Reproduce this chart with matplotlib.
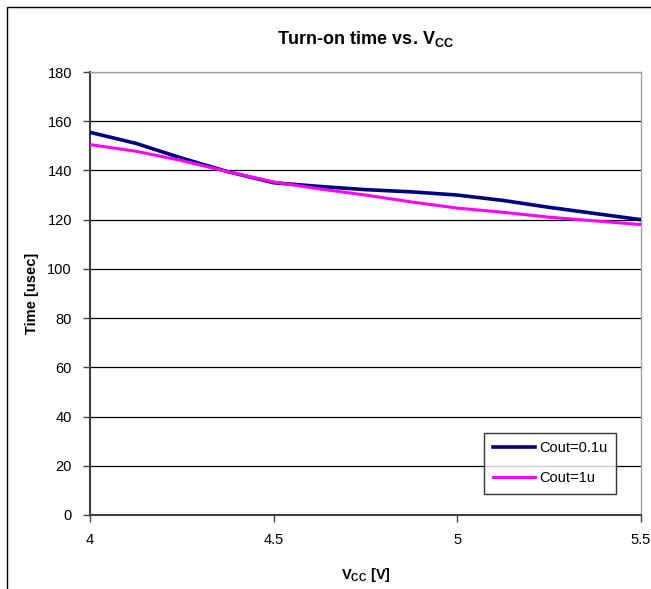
import matplotlib
matplotlib.use('Agg')
from matplotlib import pyplot as plt
from matplotlib.patches import Rectangle

plt.rcParams['font.family'] = ['Liberation Sans', 'DejaVu Sans']
plt.rcParams['mathtext.fontset'] = 'custom'
plt.rcParams['mathtext.rm'] = 'Liberation Sans'
plt.rcParams['mathtext.bf'] = 'Liberation Sans:bold'

# Vcc values (V) and turn-on times (usec)
vcc = [4.0, 4.125, 4.25, 4.375, 4.5, 4.625, 4.75, 4.875, 5.0, 5.125, 5.25, 5.375, 5.5]
t_cout_01u = [155.5, 151, 145, 139.5, 135, 133.5, 132.2, 131.3, 130, 127.8, 125, 122.5, 120]
t_cout_1u = [150.5, 147.8, 144, 139.5, 135.3, 132.5, 130, 127.2, 124.7, 123, 121, 119.5, 118]

labels = ['Cout=0.1u', 'Cout=1u']
colors = ['#000080', '#FF00FF']

y_ticks = list(range(0, 181, 20))
x_ticks = [4, 4.5, 5, 5.5]


def generate_plot():
    fig = plt.figure(figsize=(6.51, 5.89), dpi=100)
    ax = fig.add_axes([90 / 651, 1 - 515 / 589, 551 / 651, 443 / 589])

    # chart area border (cropped at right / bottom like the original)
    fig.patches.append(Rectangle((7 / 651, -0.1), 1.2, 1.1 - 7 / 589,
                                 transform=fig.transFigure, fill=False,
                                 edgecolor='black', lw=1.0))

    ax.plot(vcc, t_cout_01u, color=colors[0], lw=2.6, label=labels[0], zorder=3)
    ax.plot(vcc, t_cout_1u, color=colors[1], lw=2.2, label=labels[1], zorder=3)

    ax.set_xlim(4, 5.5)
    ax.set_ylim(0, 180)
    ax.set_xticks(x_ticks)
    ax.set_xticklabels(['4', '4.5', '5', '5.5'])
    ax.set_yticks(y_ticks)
    ax.grid(axis='y', color='black', lw=0.9)
    ax.set_axisbelow(True)

    for s in ['top', 'right']:
        ax.spines[s].set_color('#a0a0a0')
        ax.spines[s].set_linewidth(1.0)
    for s in ['left', 'bottom']:
        ax.spines[s].set_color('#404040')
        ax.spines[s].set_linewidth(1.5)
    ax.tick_params(direction='out', length=5, width=1, color='#404040',
                   labelsize=10.5, pad=8)

    ax.set_title(r'Turn-on time vs. V$_{\mathbf{CC}}$', fontsize=13,
                 fontweight='bold', pad=20)
    ax.set_xlabel(r'V$_{\mathbf{CC}}$ [V]', fontsize=10.5, fontweight='bold',
                  labelpad=14)
    ax.set_ylabel('Time [usec]', fontsize=10.5, fontweight='bold', labelpad=6)

    leg = ax.legend(loc='lower right', bbox_to_anchor=(0.955, 0.047),
                    fontsize=10.5, frameon=True, fancybox=False,
                    handlelength=2.9, handletextpad=0.3, borderpad=0.6,
                    labelspacing=1.1, borderaxespad=0)
    leg.get_frame().set_edgecolor('black')
    leg.get_frame().set_linewidth(1.0)

    fig.savefig('out.png', dpi=100)


if __name__ == "__main__":
    generate_plot()
